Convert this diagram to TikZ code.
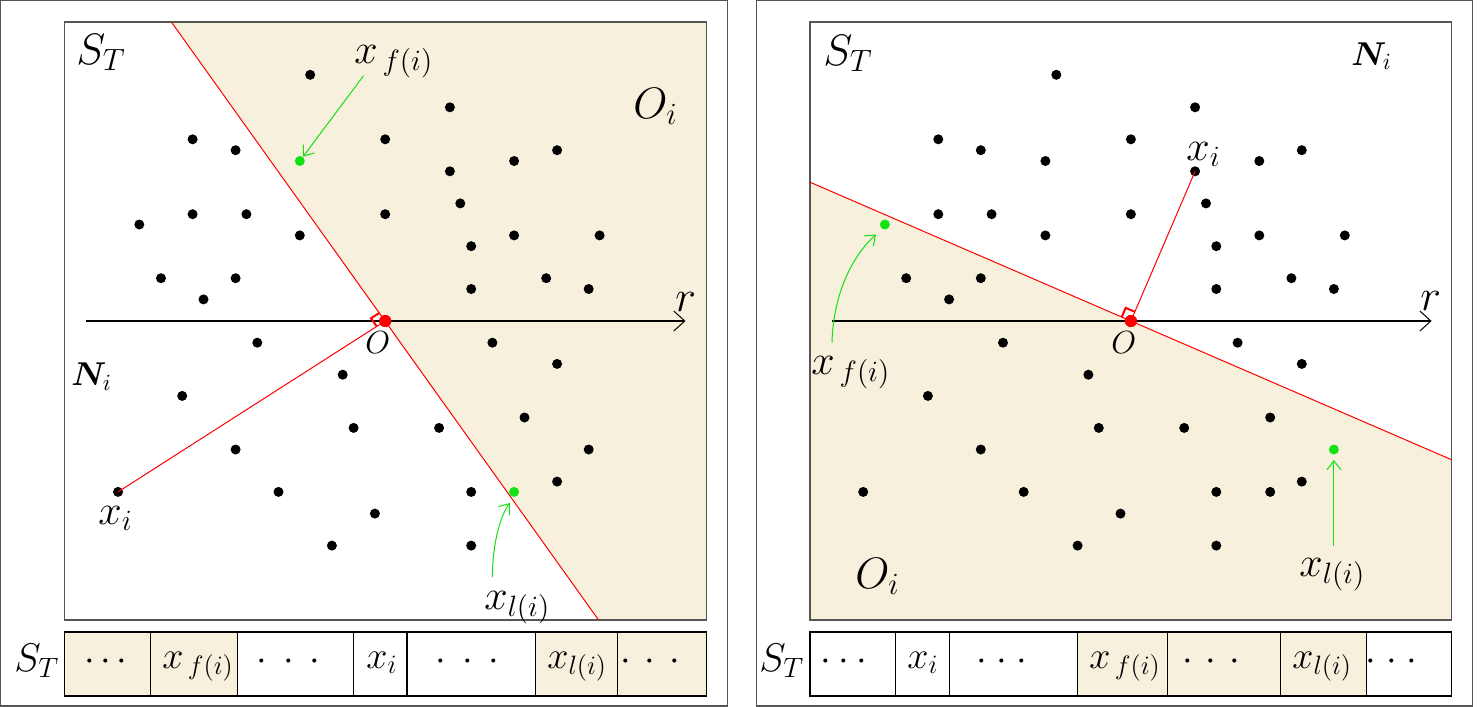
\documentclass[tikz,border=0pt]{standalone}
\usepackage{fix-cm}
\usepackage{amsmath,bm}
\usetikzlibrary{arrows.meta,calc}
\definecolor{shadebg}{RGB}{246,240,221}
\definecolor{ptgreen}{RGB}{20,225,20}
\definecolor{boxgray}{RGB}{85,85,85}
\newcommand{\sz}[1]{\fontsize{#1}{#1}\selectfont}
\newcommand{\spdots}[1]{${\cdot}\hspace{#1}{\cdot}\hspace{#1}{\cdot}$}
\begin{document}
\begin{tikzpicture}[x=0.5pt,y=-0.5pt,
  dot/.style={circle,fill=black,inner sep=0pt,minimum size=5pt},
  gdot/.style={dot,fill=ptgreen},
  odot/.style={circle,fill=red,inner sep=0pt,minimum size=6pt},
  redline/.style={red,line width=0.5pt},
  axisline/.style={black,line width=0.6pt,-{Straight Barb[length=5.5pt,width=10pt,line width=0.5pt]}},
  garrow/.style={ptgreen,line width=0.5pt,-{Straight Barb[length=4.5pt,width=7pt,line width=0.5pt]}},
  lbl/.style={inner sep=0pt,anchor=base west,font=\sz{22}},
  xlbl/.style={inner sep=0pt,anchor=base west,font=\sz{21}},
  blbl/.style={inner sep=0pt,anchor=base west,font=\sz{19}},
  bdots/.style={inner sep=0pt,anchor=base,font=\sz{19}},
  outerbox/.style={draw=boxgray,line width=0.8pt},
  innerbox/.style={draw=boxgray,line width=0.7pt},
  cellline/.style={draw=black,line width=0.6pt},
  rmark/.style={red,line width=1pt}]
\useasboundingbox (0,0) rectangle (1480,707);

% ================= LEFT PANEL =================
\draw[outerbox] (0.5,0.5) rectangle (727.5,706);
\coordinate (LT) at (171.4,22);
\coordinate (LB) at (598.6,620);
\fill[shadebg] (LT) -- (706.5,22) -- (706.5,620) -- (LB) -- cycle;
\draw[innerbox] (64.5,22) rectangle (706.5,620);
% sequence bar
\fill[shadebg] (64.5,632) rectangle (237.5,696);
\fill[shadebg] (535.8,632) rectangle (706.5,696);
\draw[cellline] (64.5,632) rectangle (706.5,696);
\foreach \xx in {150.6,237.5,353.6,407,535.8,617.5}
  \draw[cellline] (\xx,632) -- (\xx,696);

\node[odot] (LO) at (385.2,321) {};
\node[dot] (Lxi) at (118,491.9) {};
\node[gdot] (Lf) at (299.8,161) {};
\node[gdot] (Ll) at (514.1,491.9) {};
\draw[redline] (LT) -- (LB);
\draw[redline] (LO.center) -- (Lxi.center);
\coordinate (Laxs) at (85.9,321);
\coordinate (Laxe) at (685.5,321);
\draw[axisline] (Laxs) -- (Laxe);
\coordinate (La) at ($(LO.center)!5pt!(LT)$);
\coordinate (Lb) at ($(LO.center)!5pt!(Lxi.center)$);
\draw[rmark] (La) -- ($(La)+(Lb)-(LO.center)$) -- (Lb);
\node[odot] at (LO.center) {};
\foreach \x/\y [count=\k] in {310.2/74.8, 449.9/107.3, 192.6/139.3, 235.6/150.2, 385.2/139.3, 514.1/161.0, 557.1/150.2, 449.9/171.3, 460.3/203.4, 139.3/224.5, 192.6/214.2, 246.4/214.2, 299.8/235.4, 385.2/214.2, 471.2/246.2, 514.1/235.4, 599.6/235.4, 161.0/278.2, 235.6/278.2, 203.5/299.4, 471.2/289.0, 546.2/278.2, 588.7/289.0, 257.3/342.7, 492.4/342.7, 557.1/363.9, 342.7/374.7, 182.2/395.9, 524.5/417.5, 353.6/427.9, 439.1/427.9, 235.6/449.5, 588.7/449.5, 557.1/481.6, 278.5/491.9, 471.2/491.9, 374.9/513.6, 331.9/545.6, 471.2/545.6}
  \node[dot] (Ld\k) at (\x,\y) {};

\node[lbl] (LST) at (76,64) {$S_T$};
\node[xlbl] (Lxflbl) at (354,63) {$x_{\,f(i)}$};
\node[lbl] (LOi) at (633,118) {$O_i$};
\node[lbl] (Lr) at (675,311) {$r$};
\node[inner sep=0pt,anchor=base west,font=\sz{16}] (LOlbl) at (365,353) {$O$};
\node[inner sep=0pt,anchor=base west,font=\sz{16.5}] (LNi) at (71,385.5) {$\bm{N}_i$};
\node[xlbl] (Lxilbl) at (98,524) {$x_i$};
\node[xlbl] (Lxllbl) at (484,609) {$x_{l(i)}$};
\coordinate (Lfa) at (363.5,75.8);
\draw[garrow] (Lfa) -- (Lf);
\coordinate (Lla) at (492.4,577);
\coordinate (Llb) at (509.9,503);
\draw[garrow] (Lla) .. controls (492.4,545) and (500,516) .. (Llb);

\node[inner sep=0pt,anchor=base west,font=\sz{20}] (LbST) at (14,671) {$S_T$};
\node[bdots] (Lb1) at (106,670) {\spdots{2.8pt}};
\node[blbl] (Lb2) at (162,668) {$x_{\,f(i)}$};
\node[bdots] (Lb3) at (288.5,670) {\spdots{8pt}};
\node[blbl] (Lb4) at (366,668) {$x_i$};
\node[bdots] (Lb5) at (467.5,670) {\spdots{8pt}};
\node[blbl] (Lb6) at (547,668) {$x_{l(i)}$};
\node[bdots] (Lb7) at (650,670) {\spdots{6.9pt}};

% ================= RIGHT PANEL =================
\draw[outerbox] (756.5,0.5) rectangle (1472.5,706);
\coordinate (RT) at (810,182.2);
\coordinate (RB) at (1451.5,459.7);
\fill[shadebg] (RT) -- (RB) -- (1451.5,620) -- (810,620) -- cycle;
\draw[innerbox] (810,22) rectangle (1451.5,620);
\fill[shadebg] (1077.6,632) rectangle (1366.5,696);
\draw[cellline] (810,632) rectangle (1451.5,696);
\foreach \xx in {895.8,949.1,1077.6,1167.7,1280.5,1366.5}
  \draw[cellline] (\xx,632) -- (\xx,696);

\node[odot] (RO) at (1130.9,321) {};
\node[dot] (Rxi) at (1195.1,171.3) {};
\node[gdot] (Rf) at (884.9,224.5) {};
\node[gdot] (Rl) at (1333.9,449.5) {};
\draw[redline] (RT) -- (RB);
\draw[redline] (RO.center) -- (Rxi.center);
\coordinate (Raxs) at (832,321);
\coordinate (Raxe) at (1431.6,321);
\draw[axisline] (Raxs) -- (Raxe);
\coordinate (Ra) at ($(RO.center)!5pt!(RT)$);
\coordinate (Rb) at ($(RO.center)!5pt!(Rxi.center)$);
\draw[rmark] (Ra) -- ($(Ra)+(Rb)-(RO.center)$) -- (Rb);
\node[odot] at (RO.center) {};
\foreach \x/\y [count=\k] in {1056.3/74.8, 1195.1/107.3, 938.3/139.3, 980.8/150.2, 1045.4/161.0, 1130.9/139.3, 1259.3/161.0, 1301.8/150.2, 1206.0/203.4, 938.3/214.2, 991.6/214.2, 1130.9/214.2, 1045.4/235.4, 1216.3/246.2, 1259.3/235.4, 1344.8/235.4, 906.2/278.2, 980.8/278.2, 949.1/299.4, 1216.3/289.0, 1291.4/278.2, 1333.9/289.0, 1003.0/342.7, 1237.6/342.7, 1301.8/363.9, 1088.4/374.7, 927.9/395.9, 1270.2/417.5, 1098.8/427.9, 1184.2/427.9, 980.8/449.5, 863.2/491.9, 1023.7/491.9, 1216.3/491.9, 1270.2/491.9, 1301.8/481.6, 1120.5/513.6, 1077.6/545.6, 1216.3/545.6}
  \node[dot] (Rd\k) at (\x,\y) {};

\node[lbl] (RST) at (823,65) {$S_T$};
\node[inner sep=0pt,anchor=base west,font=\sz{16.5}] (RNi) at (1351,65) {$\bm{N}_i$};
\node[xlbl] (Rxilbl) at (1186,160) {$x_i$};
\node[lbl] (Rr) at (1420,310) {$r$};
\node[inner sep=0pt,anchor=base west,font=\sz{16}] (ROlbl) at (1111,353) {$O$};
\node[xlbl] (Rxflbl) at (811,374) {$x_{\,f(i)}$};
\node[xlbl] (Rxllbl) at (1299,576) {$x_{l(i)}$};
\node[lbl] (ROi) at (855,588) {$O_i$};
\coordinate (Rfa) at (832,342.7);
\coordinate (Rfb) at (876,234.5);
\draw[garrow] (Rfa) .. controls (833,298) and (850,258) .. (Rfb);
\coordinate (Rla) at (1333.9,545.6);
\coordinate (Rlb) at (1333.9,460);
\draw[garrow] (Rla) -- (Rlb);

\node[inner sep=0pt,anchor=base west,font=\sz{20}] (RbST) at (759,671) {$S_T$};
\node[bdots] (Rb1) at (844,670) {\spdots{3.6pt}};
\node[blbl] (Rb2) at (907,668) {$x_i$};
\node[bdots] (Rb3) at (1002,670) {\spdots{4.8pt}};
\node[blbl] (Rb4) at (1089,668) {$x_{\,f(i)}$};
\node[bdots] (Rb5) at (1211,670) {\spdots{6.5pt}};
\node[blbl] (Rb6) at (1292,668) {$x_{l(i)}$};
\node[bdots] (Rb7) at (1391.7,670) {\spdots{5pt}};
\end{tikzpicture}
\end{document}
